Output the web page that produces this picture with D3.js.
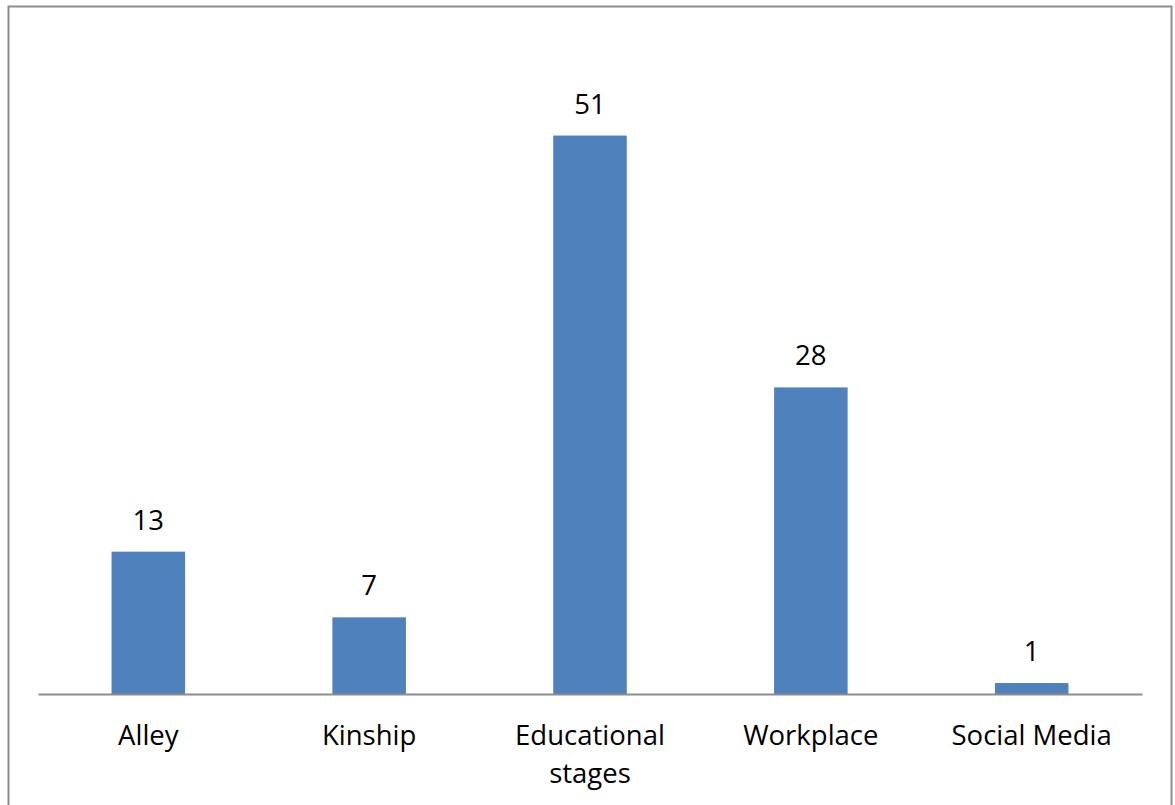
<!DOCTYPE html>
<html>
<head>
<meta charset="utf-8">
<script src="https://cdn.jsdelivr.net/npm/d3@7"></script>
<style>
  body { margin: 0; background: #fff; }
  text { font-family: "Open Sans", "Noto Sans", sans-serif; fill: #000; }
</style>
</head>
<body>
<div id="chart"></div>
<script>
// chart data
const categories = ["Alley", "Kinship", "Educational stages", "Workplace", "Social Media"];
const counts = [13, 7, 51, 28, 1];

var width = 1175, height = 805;
var margin = { top: 37, right: 33, bottom: 111, left: 38 };

var svg = d3.select("#chart")
  .append("svg")
  .attr("width", width)
  .attr("height", height);

// outer frame
svg.append("rect")
  .attr("x", 8.5)
  .attr("y", 6.5)
  .attr("width", 1163)
  .attr("height", 810)
  .attr("fill", "none")
  .attr("stroke", "#8c8c8c")
  .attr("stroke-width", 2);

const x = d3.scaleBand()
  .domain(categories)
  .range([margin.left, width - margin.right])
  .paddingInner(0.667)
  .paddingOuter(0.333);

const y = d3.scaleLinear()
  .domain([0, 60])
  .range([height - margin.bottom, margin.top]);

// bars
svg.selectAll(".bar")
  .data(categories)
  .join("rect")
  .attr("class", "bar")
  .attr("x", d => x(d))
  .attr("width", x.bandwidth())
  .attr("y", (d, i) => y(counts[i]))
  .attr("height", (d, i) => y(0) - y(counts[i]))
  .attr("fill", "#4f81bd");

// value labels
svg.selectAll(".val")
  .data(categories)
  .join("text")
  .attr("class", "val")
  .attr("x", d => x(d) + x.bandwidth() / 2)
  .attr("y", (d, i) => y(counts[i]) - 22)
  .attr("text-anchor", "middle")
  .style("font-size", "27.5px")
  .text((d, i) => counts[i]);

// x axis
var xaxis = svg.append("g")
  .attr("transform", `translate(0, ${y(0)})`)
  .call(d3.axisBottom(x).tickSize(0).tickFormat(""));
xaxis.select(".domain").attr("stroke", "#8c8c8c").attr("stroke-width", 2);

// category labels, wrapped like the original
var wrapped = { "Educational stages": ["Educational", "stages"] };
svg.selectAll(".cat")
  .data(categories)
  .join("text")
  .attr("class", "cat")
  .attr("text-anchor", "middle")
  .style("font-size", "27.5px")
  .each(function (d) {
    var lines = wrapped[d] || [d];
    var t = d3.select(this);
    lines.forEach((ln, i) => {
      t.append("tspan")
        .attr("x", x(d) + x.bandwidth() / 2)
        .attr("y", y(0) + 51 + i * 38)
        .text(ln);
    });
  });
</script>
</body>
</html>
